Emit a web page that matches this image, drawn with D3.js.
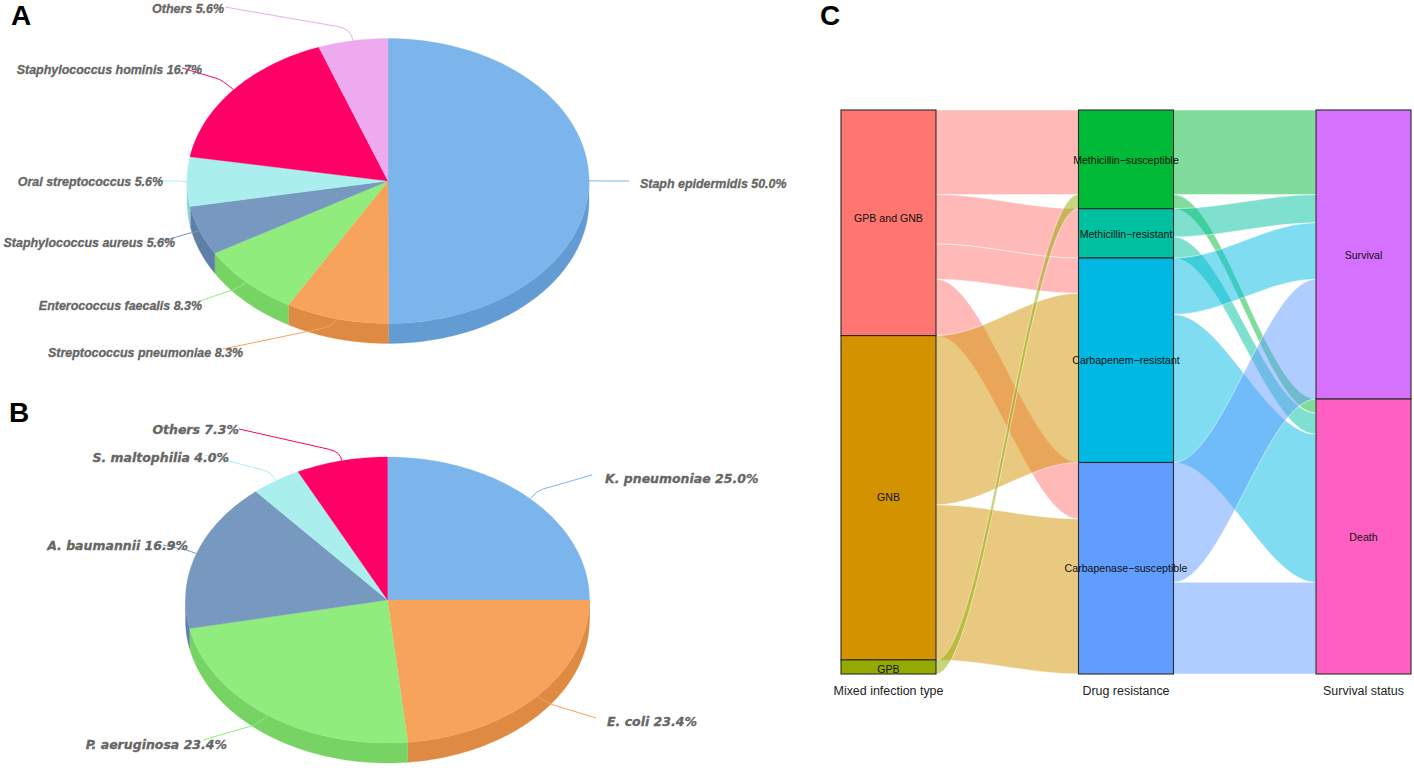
<!DOCTYPE html>
<html><head><meta charset="utf-8">
<script src="https://cdn.jsdelivr.net/npm/d3@7/dist/d3.min.js"></script>
<style>html,body{margin:0;background:#fff}svg{display:block}</style>
</head><body><svg id="c" width="1414" height="768"></svg>
<script>
// ---- pie data
const pieALabels = ["Staph epidermidis","Streptococcus pneumoniae","Enterococcus faecalis","Staphylococcus aureus","Oral streptococcus","Staphylococcus hominis","Others"];
const pieAValues = [50.0,8.3,8.3,5.6,5.6,16.7,5.6];
const pieAColors = ["#7cb5ec","#f7a35c","#90ed7d","#7798BF","#aaeeee","#ff0066","#eeaaee"];
const pieBLabels = ["K. pneumoniae","E. coli","P. aeruginosa","A. baumannii","S. maltophilia","Others"];
const pieBValues = [25.0,23.4,23.4,16.9,4.0,7.3];
const pieBColors = ["#7cb5ec","#f7a35c","#90ed7d","#7798BF","#aaeeee","#ff0066"];
// ---- alluvial data
const axisNames = ["Mixed infection type","Drug resistance","Survival status"];
const infectionTypes = ["GPB and GNB","GNB","GPB"];
const resistanceTypes = ["Methicillin\u2212susceptible","Methicillin\u2212resistant","Carbapenem\u2212resistant","Carbapenase\u2212susceptible"];
const survivalTypes = ["Survival","Death"];
const infectionColors = ["#FF7570","#D39200","#93AA00"];
const resistanceColors = ["#00BA38","#00C19F","#00B9E3","#619CFF"];
const survivalColors = ["#D670FF","#FF5FC0"];
// rows: infection types, columns: resistance types
const infectionToResistance = [[12,7,5,8],[0,0,24,22],[2,0,0,0]];
// rows: resistance types, columns: survival types
const resistanceToSurvival = [[12,2],[4,3],[8,21],[17,13]];

// ---- layout (separate from the data)
const pieALayout = {cx:388,cy:181,rx:201,ry:142.5,depth:20};
const pieBLayout = {cx:387.5,cy:600,rx:202,ry:143,depth:20};
const pieAFont = {family:"'Liberation Sans',Arial,sans-serif",size:12.45};
const pieBFont = {family:"'DejaVu Sans',sans-serif",size:12.5};
// per slice: text x, text baseline y, anchor, connector corner, connector end
const pieAText = [
 [640,188,"start",[600,181],[629,181]],
 [243,357,"end",[334,326],[223,349]],
 [202,310,"end",[238,288],[197,302]],
 [175,247,"end",[190,233],[156,243]],
 [163,186,"end",[180,181],[160,181]],
 [202,74,"end",[222,80],[182,68]],
 [224,13,"end",[352,29],[225,7]]];
const pieBText = [
 [605,483,"start",[536,491],[592,475]],
 [607,726,"start",[547,703],[596,718]],
 [227,749,"end",[258,724],[203,740]],
 [188,550,"end",[190,551],[163,545]],
 [229,462,"end",[271,472],[205,455]],
 [239,434,"end",[341,452],[239,429]]];
// vertical label offsets inside each stratum, px
const infectionLabelNudge = [-5,-0.5,2];
const resistanceLabelNudge = [1,1,0.5,0];
const survivalLabelNudge = [1,1];

const svg = d3.select("#c");

function darker(col){
  const c = d3.rgb(col);
  return d3.rgb(c.r-25.5,c.g-25.5,c.b-25.5).formatHex();
}

function drawPie(labels,values,colors,L,text,font){
  const g = svg.append("g");
  const arcs = d3.pie().sort(null)(values);
  const sx = d3.scaleLinear().domain([-1,1]).range([L.cx-L.rx,L.cx+L.rx]);
  const sy = d3.scaleLinear().domain([-1,1]).range([L.cy-L.ry,L.cy+L.ry]);
  const px = a=>sx(Math.sin(a)), py = a=>sy(-Math.cos(a));
  const arcPts = (a0,a1,dy)=>{
    const n = Math.max(2,Math.ceil((a1-a0)/0.02));
    return d3.range(n+1).map(i=>{const a=a0+(a1-a0)*i/n;return [px(a),py(a)+dy];});
  };
  const line = d3.line();
  const fr0 = Math.PI/2, fr1 = 3*Math.PI/2;
  arcs.forEach((d,i)=>{
    const a0=Math.max(d.startAngle,fr0), a1=Math.min(d.endAngle,fr1);
    if(a1<=a0) return;
    const pts = arcPts(a0,a1,0).concat(arcPts(a0,a1,L.depth).reverse());
    g.append("path").attr("d",line(pts)+"Z").attr("fill",darker(colors[i])).attr("stroke",darker(colors[i])).attr("stroke-width",0.3);
  });
  arcs.forEach((d,i)=>{
    const pts = [[L.cx,L.cy]].concat(arcPts(d.startAngle,d.endAngle,0));
    g.append("path").attr("d",line(pts)+"Z").attr("fill",colors[i]).attr("stroke",colors[i]).attr("stroke-width",0.3);
  });
  arcs.forEach((d,i)=>{
    const mid=(d.startAngle+d.endAngle)/2;
    const t=text[i];
    const p=d3.path();
    p.moveTo(px(mid),py(mid));
    p.quadraticCurveTo(t[3][0],t[3][1],t[3][0]+(t[4][0]-t[3][0])*0.12,t[3][1]+(t[4][1]-t[3][1])*0.12);
    p.lineTo(t[4][0],t[4][1]);
    g.append("path").attr("d",p.toString()).attr("fill","none").attr("stroke",colors[i]).attr("stroke-width",1);
  });
  arcs.forEach((d,i)=>{
    const t=text[i];
    g.append("text").attr("x",t[0]).attr("y",t[1]).attr("text-anchor",t[2])
      .attr("font-family",font.family).attr("font-size",font.size).attr("font-weight","bold").attr("font-style","italic")
      .attr("fill","#666666").attr("stroke","#666666").attr("stroke-width",0.3)
      .text(labels[i]+" "+values[i].toFixed(1)+"%");
  });
}
drawPie(pieALabels,pieAValues,pieAColors,pieALayout,pieAText,pieAFont);
drawPie(pieBLabels,pieBValues,pieBColors,pieBLayout,pieBText,pieBFont);

// ---- alluvial
const total = d3.sum(infectionToResistance.flat());
const yS = d3.scaleLinear().domain([0,total]).range([110,674]);
const colX = d3.scaleBand().domain(axisNames).range([841,1411]).paddingInner(0.6);
const bw = colX.bandwidth();

function stackFlows(matrix){
  const nR=matrix.length,nC=matrix[0].length;
  const flows=[];
  const rowStart=[],colStart=[];let acc=0;
  for(let r=0;r<nR;r++){rowStart.push(acc);acc+=d3.sum(matrix[r]);}
  acc=0;for(let c=0;c<nC;c++){colStart.push(acc);acc+=d3.sum(matrix,m=>m[c]);}
  const ro=rowStart.slice(),co=colStart.slice();
  for(let r=0;r<nR;r++)for(let c=0;c<nC;c++){
    const v=matrix[r][c];
    if(v>0)flows.push({r,c,v,l0:ro[r],r0:co[c]});
    ro[r]+=v;co[c]+=v;
  }
  return flows;
}
function ribbon(x0,x1,a0,a1,b0,b1){
  const k=0.34,dx=x1-x0,p=d3.path();
  p.moveTo(x0,a0);
  p.bezierCurveTo(x0+k*dx,a0,x1-k*dx,b0,x1,b0);
  p.lineTo(x1,b1);
  p.bezierCurveTo(x1-k*dx,b1,x0+k*dx,a1,x0,a1);
  p.closePath();
  return p.toString();
}
function drawFlows(matrix,colors,x0,x1){
  svg.append("g").selectAll("path").data(stackFlows(matrix)).join("path")
    .attr("d",f=>ribbon(x0,x1,yS(f.l0),yS(f.l0+f.v),yS(f.r0),yS(f.r0+f.v)))
    .attr("fill",f=>colors[f.r]).attr("fill-opacity",0.5)
    .attr("stroke","#fff").attr("stroke-opacity",0.7).attr("stroke-width",0.7);
}
const xs=axisNames.map(a=>colX(a));
drawFlows(infectionToResistance,infectionColors,xs[0]+bw,xs[1]);
drawFlows(resistanceToSurvival,resistanceColors,xs[1]+bw,xs[2]);

function drawStrata(names,sizes,colors,x,nudge){
  let acc=0;
  const g=svg.append("g");
  names.forEach((n,i)=>{
    const y0=yS(acc),y1=yS(acc+sizes[i]);acc+=sizes[i];
    g.append("rect").attr("x",x).attr("y",y0).attr("width",bw).attr("height",y1-y0)
      .attr("fill",colors[i]).attr("stroke","#2a2a2a").attr("stroke-width",1.1);
  });
  acc=0;
  names.forEach((n,i)=>{
    const y0=yS(acc),y1=yS(acc+sizes[i]);acc+=sizes[i];
    g.append("text").attr("x",x+bw/2).attr("y",(y0+y1)/2+nudge[i]).attr("dy","0.35em").attr("text-anchor","middle")
      .attr("font-family","'Liberation Sans',Arial,sans-serif").attr("font-size",10.6).attr("fill","#111").text(n);
  });
}
drawStrata(infectionTypes,infectionToResistance.map(r=>d3.sum(r)),infectionColors,xs[0],infectionLabelNudge);
drawStrata(resistanceTypes,resistanceToSurvival.map(r=>d3.sum(r)),resistanceColors,xs[1],resistanceLabelNudge);
drawStrata(survivalTypes,[0,1].map(c=>d3.sum(resistanceToSurvival,r=>r[c])),survivalColors,xs[2],survivalLabelNudge);

axisNames.forEach((n,i)=>{
  svg.append("text").attr("x",xs[i]+bw/2).attr("y",695).attr("text-anchor","middle")
    .attr("font-family","'Liberation Sans',Arial,sans-serif").attr("font-size",12.45).attr("fill","#222").text(n);
});

[["A",11,25],["B",9,422],["C",820,25]].forEach(([t,x,y])=>{
  svg.append("text").attr("x",x).attr("y",y).attr("font-family","'Liberation Sans',Arial,sans-serif")
    .attr("font-weight","bold").attr("font-size",28).attr("fill","#000").text(t);
});
</script></body></html>
